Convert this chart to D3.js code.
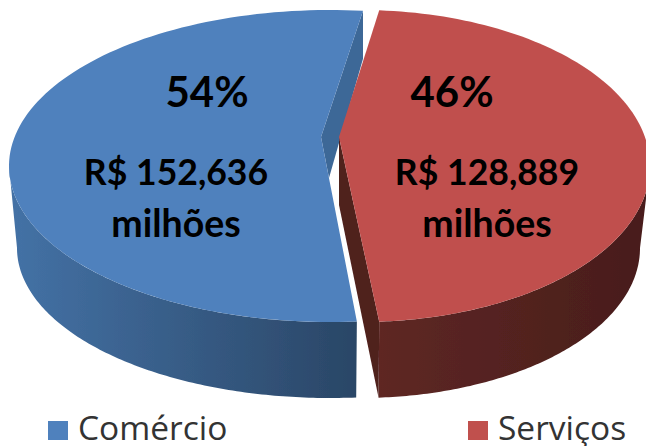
<!DOCTYPE html>
<html><head><meta charset="utf-8">
<script src="https://cdn.jsdelivr.net/npm/d3@7"></script>
<style>html,body{margin:0;padding:0;background:#fff}svg{display:block}</style>
</head><body><svg id="c" width="646" height="446"></svg>
<script>
const categories = ["Comércio", "Serviços"];
const values = [152636, 128889];
const percentLabels = ["54%", "46%"];
const amountLabels = ["R$ 152,636", "R$ 128,889"];
const unitLabels = ["milhões", "milhões"];
const topColors = ["#4F81BD", "#C0504D"];
const innerColors = ["#3E6797", "#50201E"];
const sideStops = [["#4472A6", "#2A4666"], ["#5E2724", "#481D1B"]];

const deg = Math.PI / 180;
// Screen geometry of each exploded slice
const geo = [
  { top: {cx:330, cy:166, rx:321, ry:156}, bot: {cx:330, cy:248, rx:313, ry:150},
    apex:[321,137], sweep:[-184.8, 5.9], facing:[-184.8, -90] },
  { top: {cx:360, cy:166, rx:290, ry:156}, bot: {cx:360, cy:248, rx:280, ry:150},
    apex:[339,137], sweep:[3.8, 176.2], facing:[90, 176.2] }
];
const svg = d3.select("#c");
const defs = svg.append("defs");
const f = defs.append("filter").attr("id","soft");
f.append("feGaussianBlur").attr("stdDeviation",0.5);

const pie = d3.pie().sort(null).startAngle(0).endAngle(2*Math.PI);
const arcs = pie(values);
const line = d3.line();

function rim(e, s, v){
  const a = s(v);
  return [e.cx + e.rx*Math.sin(a*deg), e.cy - e.ry*Math.cos(a*deg)];
}
const g = svg.append("g").attr("filter","url(#soft)");

arcs.forEach((d, i) => {
  const k = geo[i];
  const s = d3.scaleLinear().domain([d.startAngle, d.endAngle]).range(k.sweep);
  const steps = d3.range(0,121).map(n => d.startAngle + (d.endAngle-d.startAngle)*n/120);
  const topRim = steps.map(a => rim(k.top, s, a));

  // outer side: only the part that faces the viewer
  const from = s.invert(k.facing[0]), to = s.invert(k.facing[1]);
  const vis = d3.range(0,121).map(n => from + (to-from)*n/120);
  const gid = "side"+i;
  const xs = i===0 ? [9,357] : [379,646];
  const gr = defs.append("linearGradient").attr("id",gid).attr("gradientUnits","userSpaceOnUse")
    .attr("x1",xs[0]).attr("x2",xs[1]).attr("y1",0).attr("y2",0);
  gr.append("stop").attr("offset",0).attr("stop-color",sideStops[i][0]);
  gr.append("stop").attr("offset",1).attr("stop-color",sideStops[i][1]);
  const sidePts = vis.map(a=>rim(k.top,s,a)).concat(vis.map(a=>rim(k.bot,s,a)).reverse());
  g.append("path").attr("d",line(sidePts)+"Z").attr("fill",`url(#${gid})`);

  // inner cut face
  let inner;
  if(i===0){
    const c = rim(k.top,s,d.endAngle);
    inner = [c, [c[0], c[1]+48], [k.apex[0]+8, k.apex[1]+41], k.apex];
  } else {
    const c = rim(k.top,s,d.endAngle), b = rim(k.bot,s,d.endAngle);
    inner = [k.apex, c, b, [k.apex[0], k.apex[1]+68]];
  }
  g.append("path").attr("d",line(inner)+"Z").attr("fill",innerColors[i]);

  // top face
  g.append("path").attr("d",line(topRim.concat([k.apex]))+"Z").attr("fill",topColors[i]);
});

const labelX = [207, 452], amountX = [176, 487], font = "Lato, 'Open Sans', sans-serif";
const tg = svg.append("g").attr("font-family",font).attr("font-weight",700).attr("fill","#000").attr("text-anchor","middle");
categories.forEach((c,i)=>{
  tg.append("text").attr("x",labelX[i]).attr("y",107).attr("font-size",42).text(percentLabels[i]);
  tg.append("text").attr("x",amountX[i]).attr("y",185).attr("font-size",35.6).text(amountLabels[i]);
  tg.append("text").attr("x",amountX[i]).attr("y",237).attr("font-size",37.5).text(unitLabels[i]);
});
const swX = [48,468], txX=[78,498];
const lg = svg.append("g");
categories.forEach((c,i)=>{
  lg.append("rect").attr("x",swX[i]).attr("y",421).attr("width",20).attr("height",19).attr("fill",topColors[i]);
  lg.append("text").attr("x",txX[i]).attr("y",440).attr("font-family","'Open Sans', sans-serif")
    .attr("font-size",33.5).attr("fill","#333").text(c);
});
</script></body></html>
